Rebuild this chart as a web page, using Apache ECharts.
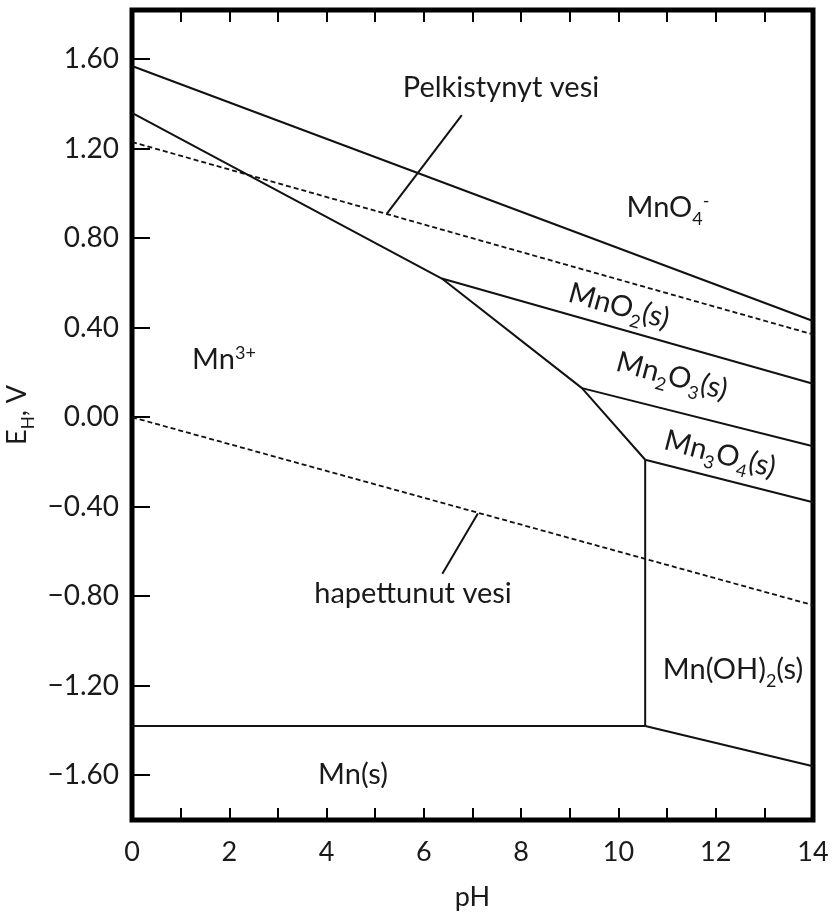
<!DOCTYPE html>
<html>
<head>
<meta charset="utf-8">
<script src="https://cdn.jsdelivr.net/npm/echarts@6/dist/echarts.min.js"></script>
<style>
html,body{margin:0;padding:0;background:#fff;}
#chart{width:840px;height:912px;}
</style>
</head>
<body>
<div id="chart"></div>
<script>
// ---- data ----
const xLabelValues = [0, 2, 4, 6, 8, 10, 12, 14];
const yTickValues = [-1.6, -1.2, -0.8, -0.4, 0, 0.4, 0.8, 1.2, 1.6];

const mno4Boundary   = [[0, 1.57], [14, 0.43]];
const waterUpper     = [[0, 1.23], [14, 0.37]];
const mn3Boundary    = [[0, 1.36], [6.37, 0.62], [9.25, 0.13], [10.55, -0.19]];
const mnoh2Vertical  = [[10.55, -0.19], [10.55, -1.38]];
const mnMetalLine    = [[0, -1.38], [10.55, -1.38]];
const mnoh2MnLine    = [[10.55, -1.38], [14, -1.56]];
const mn3o4Line      = [[10.55, -0.19], [14, -0.38]];
const mno2Line       = [[6.37, 0.62], [14, 0.15]];
const mn2o3Line      = [[9.25, 0.13], [14, -0.13]];
const waterLower     = [[0, 0], [14, -0.84]];
const pointerUpper   = [[5.24, 0.91], [6.78, 1.35]];
const pointerLower   = [[6.38, -0.70], [7.11, -0.43]];

// ---- styling ----
const FONT = 'Lato';
const INK = '#1a1a1a';
const LINE = '#111';
const LABEL_SIZE = 29;

function solid(data) {
  return { type: 'line', data: data, showSymbol: false, silent: true,
    lineStyle: { color: LINE, width: 2 }, z: 3 };
}
function dashed(data) {
  return { type: 'line', data: data, showSymbol: false, silent: true,
    lineStyle: { color: LINE, width: 1.8, type: [5, 3] }, z: 3 };
}

const richBase = {
  a:   { fontFamily: FONT, fontSize: LABEL_SIZE, lineHeight: 28, color: INK },
  sub: { fontFamily: FONT, fontSize: 18, height: 6, lineHeight: 6, verticalAlign: 'bottom', color: INK },
  sup: { fontFamily: FONT, fontSize: 18, height: 14, lineHeight: 14, verticalAlign: 'top', color: INK }
};

function label(text, x, y, rotDeg) {
  return {
    type: 'text', x: x, y: y, rotation: (rotDeg || 0) * Math.PI / 180, z: 10,
    style: {
      text: text, x: 0, y: 0, fill: INK, fontFamily: FONT, fontSize: LABEL_SIZE,
      align: 'center', verticalAlign: 'middle',
      textAlign: 'center', textVerticalAlign: 'middle',
      rich: richBase
    }
  };
}

const chart = echarts.init(document.getElementById('chart'), null, { renderer: 'canvas' });

const option = {
  animation: false,
  backgroundColor: '#fff',
  grid: { left: 132, right: 27, top: 10, bottom: 92, show: true,
    outerBoundsMode: 'none', containLabel: false,
    borderColor: '#000', borderWidth: 5, backgroundColor: 'transparent' },
  xAxis: [
    {
      type: 'value', min: 0, max: 14, interval: 1, position: 'bottom',
      name: 'pH', nameLocation: 'middle', nameGap: 64,
      nameTextStyle: { fontFamily: FONT, fontSize: 27, color: INK },
      axisLine: { show: false, onZero: false },
      axisTick: { show: true, inside: true, length: 12, lineStyle: { color: '#000', width: 2 } },
      axisLabel: { customValues: xLabelValues, margin: 19, fontFamily: FONT, fontSize: 27, color: INK },
      splitLine: { show: false }
    },
    {
      type: 'value', min: 0, max: 14, interval: 1, position: 'top',
      axisLine: { show: false, onZero: false },
      axisTick: { show: true, inside: true, length: 12, lineStyle: { color: '#000', width: 2 } },
      axisLabel: { show: false },
      splitLine: { show: false }
    }
  ],
  yAxis: {
    type: 'value', min: -1.8, max: 1.82,
    name: '{e|E}{h|H}{e|, V}', nameLocation: 'middle', nameGap: 88,
    nameTextStyle: {
      fontFamily: FONT, fontSize: 27, color: INK,
      rich: {
        e: { fontFamily: FONT, fontSize: 27, lineHeight: 28, color: INK },
        h: { fontFamily: FONT, fontSize: 17, height: 6, lineHeight: 6, verticalAlign: 'bottom', color: INK }
      }
    },
    axisLine: { show: false, onZero: false },
    axisTick: { show: true, inside: true, length: 18, customValues: yTickValues,
      lineStyle: { color: '#000', width: 2 } },
    axisLabel: {
      customValues: yTickValues, margin: 13, fontFamily: FONT, fontSize: 28, color: INK,
      formatter: function (v) {
        const s = Math.abs(v).toFixed(2);
        return v < -1e-9 ? '\u2212' + s : s;
      }
    },
    splitLine: { show: false }
  },
  series: [
    solid(mno4Boundary),
    dashed(waterUpper),
    solid(mn3Boundary),
    solid(mnoh2Vertical),
    solid(mnMetalLine),
    solid(mnoh2MnLine),
    solid(mn3o4Line),
    solid(mno2Line),
    solid(mn2o3Line),
    dashed(waterLower),
    solid(pointerUpper),
    solid(pointerLower)
  ],
  graphic: [
    label('{a|MnO}{sub|4}{sup|-}', 668, 208, 0),
    label('{a|MnO}{sub|2}{a|(s)}', 619, 306, -15.5),
    label('{a|Mn}{sub|2}{a|O}{sub|3}{a|(s)}', 672, 376, -15),
    label('{a|Mn}{sub|3}{a|O}{sub|4}{a|(s)}', 720, 454, -14.5),
    label('{a|Mn(OH)}{sub|2}{a|(s)}', 733, 670, 0),
    label('{a|Mn(s)}', 353, 775, 0),
    label('{a|Mn}{sup|3+}', 224, 360, 0),
    label('{a|Pelkistynyt vesi}', 501, 88, 0),
    label('{a|hapettunut vesi}', 413, 594, 0)
  ]
};

chart.setOption(option);
</script>
</body>
</html>
